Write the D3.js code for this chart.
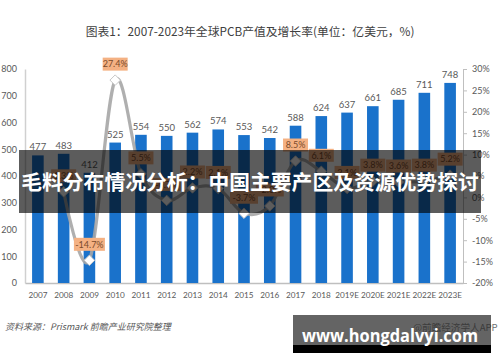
<!DOCTYPE html>
<html lang="zh">
<head>
  <meta charset="UTF-8">
  <title>全球PCB产值及增长率</title>
  <style>
    html, body { margin: 0; padding: 0; background: #fff; }
    svg { display: block; font-family: Lato, "Noto Sans CJK SC", sans-serif; }
  </style>
</head>
<body>
<div id="chart"></div>

<script src="https://d3js.org/d3.v7.min.js"></script>
<script>
  // data
  const years = ['2007', '2008', '2009', '2010', '2011', '2012', '2013', '2014', '2015',
    '2016', '2017', '2018', '2019E', '2020E', '2021E', '2022E', '2023E'];
  const output = [477, 483, 412, 525, 554, 550, 562, 574, 553, 542, 588, 624, 637, 661, 685, 711, 748];
  const growth = [null, 1.3, -14.7, 27.4, 5.5, -0.7, 2.2, 2.1, -3.7, -2.0, 8.5, 6.1, 2.1, 3.8, 3.6, 3.8, 5.2];
  const leftTicks = [0, 100, 200, 300, 400, 500, 600, 700, 800];
  const rightTicks = [-20, -15, -10, -5, 0, 5, 10, 15, 20, 25, 30];

  const width = 500;
  const height = 362;
  const plot = { left: 25, right: 463, top: 69, bottom: 283 };

  const svg = d3.select('#chart')
    .append('svg')
    .attr('width', width)
    .attr('height', height);

  // scales
  const x = d3.scaleBand()
    .domain(years)
    .range([plot.left, plot.right])
    .paddingInner(0.55)
    .paddingOuter(0.275);

  const y = d3.scaleLinear().domain([0, 800]).range([plot.bottom, plot.top]);
  const y2 = d3.scaleLinear().domain([-20, 30]).range([plot.bottom, plot.top]);

  // title
  svg.append('text')
    .attr('x', 250)
    .attr('y', 36)
    .attr('text-anchor', 'middle')
    .style('font-family', '"Noto Sans CJK SC", sans-serif')
    .style('font-size', '11.8px')
    .attr('fill', '#404040')
    .text('图表1：2007-2023年全球PCB产值及增长率(单位：亿美元，%)');

  // left axis
  const leftAxis = svg.append('g')
    .attr('transform', `translate(${plot.left},0)`)
    .call(d3.axisLeft(y).tickValues(leftTicks).tickSize(0).tickPadding(8));
  leftAxis.select('.domain').attr('stroke', '#d0d0d0').attr('stroke-width', 1.5);
  leftAxis.selectAll('text')
    .style('font-size', '9px')
    .style('font-family', 'Lato, sans-serif')
    .attr('fill', '#595959');

  // right axis
  const rightAxis = svg.append('g')
    .attr('transform', `translate(${plot.right},0)`)
    .call(d3.axisRight(y2).tickValues(rightTicks).tickSize(4).tickSizeOuter(4).tickPadding(5)
      .tickFormat(d => d + '%'));
  rightAxis.select('.domain').attr('stroke', '#bfbfbf');
  rightAxis.selectAll('line').attr('stroke', '#bfbfbf');
  rightAxis.selectAll('text')
    .style('font-size', '9px')
    .style('font-family', 'Lato, sans-serif')
    .attr('fill', '#595959');

  // bottom axis
  const bottomAxis = svg.append('g')
    .attr('transform', `translate(0,${plot.bottom})`)
    .call(d3.axisBottom(x).tickSize(0).tickPadding(9).tickSizeOuter(0));
  bottomAxis.select('.domain').attr('stroke', '#bfbfbf').attr('stroke-width', 1.5);
  bottomAxis.selectAll('text')
    .style('font-size', '8.2px')
    .style('font-family', 'Lato, sans-serif')
    .attr('fill', '#595959');

  // bars
  svg.append('g')
    .selectAll('rect')
    .data(output)
    .join('rect')
    .attr('x', (d, i) => x(years[i]))
    .attr('y', d => y(d))
    .attr('width', x.bandwidth())
    .attr('height', d => plot.bottom - y(d))
    .attr('fill', '#1a72cb');

  // bar value labels
  svg.append('g')
    .selectAll('text')
    .data(output)
    .join('text')
    .attr('x', (d, i) => x(years[i]) + x.bandwidth() / 2)
    .attr('y', d => y(d) - 5)
    .attr('text-anchor', 'middle')
    .style('font-size', '9.5px')
    .attr('fill', '#595959')
    .text(d => d);

  // growth line
  const pts = growth.map((g, i) => ({ g, year: years[i] })).filter(d => d.g !== null);

  const line = d3.line()
    .x(d => x(d.year) + x.bandwidth() / 2)
    .y(d => y2(d.g))
    .curve(d3.curveCatmullRom.alpha(0));

  svg.append('path')
    .datum(pts)
    .attr('d', line)
    .attr('fill', 'none')
    .attr('stroke', '#a6a6a6')
    .attr('stroke-width', 3.2)
    .attr('stroke-opacity', 0.9);

  svg.append('g')
    .selectAll('path')
    .data(pts)
    .join('path')
    .attr('transform', d => `translate(${x(d.year) + x.bandwidth() / 2},${y2(d.g)})`)
    .attr('d', d3.symbol(d3.symbolDiamond2, 70))
    .attr('fill', '#ffffff')
    .attr('stroke', '#c8c8c8')
    .attr('stroke-width', 1);

  // growth labels in orange boxes
  const gl = svg.append('g')
    .selectAll('g')
    .data(pts)
    .join('g')
    .attr('transform', d => `translate(${x(d.year) + x.bandwidth() / 2},${y2(d.g) - 16})`);

  gl.append('rect')
    .attr('x', d => d.g <= -10 ? -15.5 : d.g < 0 ? -14 : -12.5)
    .attr('y', -6.5)
    .attr('width', d => d.g <= -10 ? 31 : d.g < 0 ? 28 : 25)
    .attr('height', 13)
    .attr('fill', '#f4b183');

  gl.append('text')
    .attr('y', 3.3)
    .attr('text-anchor', 'middle')
    .style('font-size', '9px')
    .attr('fill', '#7a4a2a')
    .text(d => d.g.toFixed(1) + '%');

  // dark banner across the middle
  svg.append('rect')
    .attr('x', 19)
    .attr('y', 150)
    .attr('width', 462)
    .attr('height', 63)
    .attr('fill', 'rgba(0,0,0,0.64)');

  svg.append('text')
    .attr('x', 250)
    .attr('y', 190)
    .attr('text-anchor', 'middle')
    .style('font-family', '"Noto Sans CJK SC", sans-serif')
    .style('font-size', '20.8px')
    .style('font-weight', 'bold')
    .attr('fill', '#ffffff')
    .text('毛料分布情况分析：中国主要产区及资源优势探讨');

  // footer
  svg.append('text')
    .attr('x', 5)
    .attr('y', 330)
    .style('font-family', '"Noto Sans CJK SC", sans-serif')
    .style('font-size', '9px')
    .style('font-style', 'italic')
    .attr('fill', '#595959')
    .text('资料来源：Prismark 前瞻产业研究院整理');

  svg.append('text')
    .attr('x', 413)
    .attr('y', 331)
    .style('font-family', '"Noto Sans CJK SC", sans-serif')
    .style('font-size', '9.6px')
    .attr('fill', '#6f6f6f')
    .text('@前瞻经济学人APP');

  // site stamp, bottom right
  svg.append('rect')
    .attr('x', 293)
    .attr('y', 315)
    .attr('width', 198)
    .attr('height', 30)
    .attr('fill', 'rgba(40,40,40,0.72)');

  svg.append('rect')
    .attr('x', 293)
    .attr('y', 345)
    .attr('width', 198)
    .attr('height', 8)
    .attr('fill', '#000000');

  svg.append('text')
    .attr('x', 302)
    .attr('y', 342)
    .style('font-family', '"Open Sans", sans-serif')
    .style('font-size', '17px')
    .style('font-weight', 'bold')
    .attr('fill', '#ffffff')
    .attr('textLength', 176)
    .attr('lengthAdjust', 'spacingAndGlyphs')
    .text('www.hongdalvyi.com');
</script>
</body>
</html>
